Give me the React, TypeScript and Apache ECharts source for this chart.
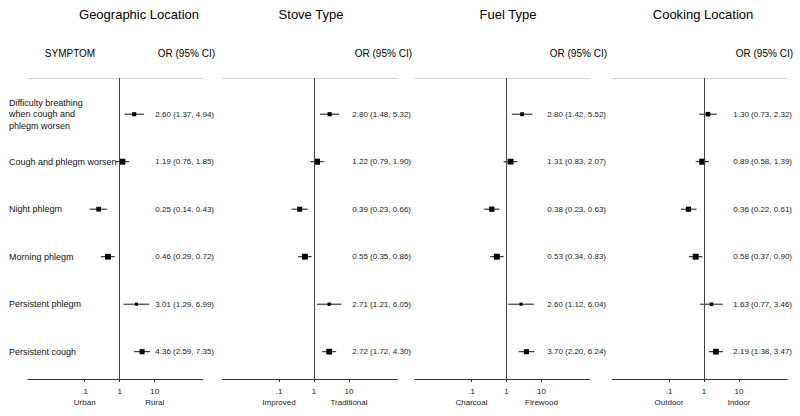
import React, { useEffect, useRef } from "react";
import * as echarts from "echarts";

const symptoms = [
  "Difficulty breathing\nwhen cough and\nphlegm worsen",
  "Cough and phlegm worsen",
  "Night phlegm",
  "Morning phlegm",
  "Persistent phlegm",
  "Persistent cough",
];

const panelTitles = ["Geographic Location", "Stove Type", "Fuel Type", "Cooking Location"];
const sideLabels = [
  ["Urban", "Rural"],
  ["Improved", "Traditional"],
  ["Charcoal", "Firewood"],
  ["Outdoor", "Indoor"],
];
const tickValues = [0.1, 1, 10];
const tickText = [".1", "1", "10"];

const geoOR = [2.6, 1.19, 0.25, 0.46, 3.01, 4.36];
const geoLo = [1.37, 0.76, 0.14, 0.29, 1.29, 2.59];
const geoHi = [4.94, 1.85, 0.43, 0.72, 6.99, 7.35];

const stoveOR = [2.8, 1.22, 0.39, 0.55, 2.71, 2.72];
const stoveLo = [1.48, 0.79, 0.23, 0.35, 1.21, 1.72];
const stoveHi = [5.32, 1.9, 0.66, 0.86, 6.05, 4.3];

const fuelOR = [2.8, 1.31, 0.38, 0.53, 2.6, 3.7];
const fuelLo = [1.42, 0.83, 0.23, 0.34, 1.12, 2.2];
const fuelHi = [5.52, 2.07, 0.63, 0.83, 6.04, 6.24];

const cookOR = [1.3, 0.89, 0.36, 0.58, 1.63, 2.19];
const cookLo = [0.73, 0.58, 0.22, 0.37, 0.77, 1.38];
const cookHi = [2.32, 1.39, 0.61, 0.9, 3.46, 3.47];

const panels = [
  { or: geoOR, lo: geoLo, hi: geoHi },
  { or: stoveOR, lo: stoveLo, hi: stoveHi },
  { or: fuelOR, lo: fuelLo, hi: fuelHi },
  { or: cookOR, lo: cookLo, hi: cookHi },
];

// layout (pixels)
const FONT = "'Liberation Sans', Arial, Helvetica, sans-serif";
const nullLineX = [119.7, 314, 506.5, 704];
const DECADE = 35;
const LOG_MIN = -2.62;
const LOG_MAX = 2.38;
const GRID_TOP = 78;
const GRID_H = 301;
const Y_MIN = 0.238;
const Y_MAX = 6.575;
const textRight = [214, 411, 606, 792];
const titleCenter = [139, 311, 508, 703];

export default function App() {
  const ref = useRef<HTMLDivElement>(null);

  useEffect(() => {
    document.body.style.margin = "0";
    if (!ref.current) return;
    const chart = echarts.init(ref.current, undefined, { renderer: "svg" });

    const grids: any[] = [];
    const xAxes: any[] = [];
    const yAxes: any[] = [];
    const series: any[] = [];
    const graphics: any[] = [];

    panels.forEach((p, i) => {
      const left = nullLineX[i] + LOG_MIN * DECADE;
      const width = (LOG_MAX - LOG_MIN) * DECADE;
      grids.push({ left, top: GRID_TOP, width, height: GRID_H, containLabel: false });

      const xMin = Math.pow(10, LOG_MIN);
      const xMax = Math.pow(10, LOG_MAX);
      // bottom axis
      xAxes.push({
        type: "log",
        logBase: 10,
        gridIndex: i,
        min: xMin,
        max: xMax,
        position: "bottom",
        axisLine: { show: true, lineStyle: { color: "#333", width: 1 } },
        axisTick: {
          show: true,
          customValues: tickValues,
          length: 3,
          lineStyle: { color: "#333", width: 1 },
        },
        axisLabel: {
          show: true,
          customValues: tickValues,
          margin: 7,
          fontSize: 8,
          lineHeight: 11,
          color: "#222",
          fontFamily: FONT,
          formatter: (v: number) => {
            const k = Math.round(Math.log10(v)) + 1;
            if (k === 0) return tickText[0] + "\n" + sideLabels[i][0];
            if (k === 2) return tickText[2] + "\n" + sideLabels[i][1];
            return tickText[1];
          },
        },
        splitLine: { show: false },
      });
      // top (header) rule
      xAxes.push({
        type: "log",
        logBase: 10,
        gridIndex: i,
        min: xMin,
        max: xMax,
        position: "top",
        axisLine: { show: true, lineStyle: { color: "#d6d6d6", width: 1 } },
        axisTick: { show: false },
        axisLabel: { show: false },
        splitLine: { show: false },
      });

      // left y axis: symptom names (first panel only)
      yAxes.push({
        type: "value",
        gridIndex: i,
        min: Y_MIN,
        max: Y_MAX,
        inverse: true,
        position: "left",
        axisLine: { show: false },
        axisTick: { show: false },
        splitLine: { show: false },
        axisLabel: {
          show: i === 0,
          customValues: [1, 2, 3, 4, 5, 6],
          align: "left",
          margin: 19,
          fontSize: 9,
          lineHeight: 11.5,
          color: "#111",
          fontFamily: FONT,
          formatter: (v: number) => symptoms[Math.round(v) - 1] ?? "",
        },
      });
      // right y axis: OR (95% CI) text
      yAxes.push({
        type: "value",
        gridIndex: i,
        min: Y_MIN,
        max: Y_MAX,
        inverse: true,
        position: "right",
        axisLine: { show: false },
        axisTick: { show: false },
        splitLine: { show: false },
        axisLabel: {
          show: true,
          customValues: [1, 2, 3, 4, 5, 6],
          align: "right",
          margin: textRight[i] - (left + width),
          fontSize: 8,
          color: "#222",
          fontFamily: FONT,
          formatter: (v: number) => {
            const k = Math.round(v) - 1;
            if (k < 0 || k >= p.or.length) return "";
            return `${p.or[k].toFixed(2)} (${p.lo[k].toFixed(2)}, ${p.hi[k].toFixed(2)})`;
          },
        },
      });

      const data = p.or.map((o, k) => [o, k + 1, p.lo[k], p.hi[k]]);
      series.push({
        type: "custom",
        xAxisIndex: 2 * i,
        yAxisIndex: 2 * i,
        encode: { x: [0, 2, 3], y: 1 },
        data,
        silent: true,
        renderItem: (params: any, api: any) => {
          const o = api.value(0);
          const y = api.value(1);
          const lo = api.value(2);
          const hi = api.value(3);
          const pc = api.coord([o, y]);
          const pl = api.coord([lo, y]);
          const ph = api.coord([hi, y]);
          const s = Math.max(2.5, Math.min(8, 5.3 / Math.log(hi / lo)));
          return {
            type: "group",
            children: [
              {
                type: "line",
                shape: { x1: pl[0], y1: pc[1], x2: ph[0], y2: pc[1] },
                style: { stroke: "#111", lineWidth: 1 },
              },
              {
                type: "rect",
                shape: { x: pc[0] - s / 2, y: pc[1] - s / 2, width: s, height: s },
                style: { fill: "#000" },
              },
            ],
          };
        },
        markLine: {
          silent: true,
          symbol: "none",
          label: { show: false },
          lineStyle: { color: "#444", width: 1, type: "solid" },
          data: [{ xAxis: 1 }],
        },
      });

      graphics.push({
        type: "text",
        x: titleCenter[i],
        y: 14,
        style: {
          text: panelTitles[i],
          fontSize: 13,
          fontFamily: FONT,
          fill: "#000",
          align: "center",
          verticalAlign: "middle",
        },
      });
      graphics.push({
        type: "text",
        x: textRight[i] + 1,
        y: 53,
        style: {
          text: "OR (95% CI)",
          fontSize: 10,
          fontFamily: FONT,
          fill: "#000",
          align: "right",
          verticalAlign: "middle",
        },
      });
    });

    graphics.push({
      type: "text",
      x: 70,
      y: 53,
      style: {
        text: "SYMPTOM",
        fontSize: 10,
        fontFamily: FONT,
        fill: "#000",
        align: "center",
        verticalAlign: "middle",
      },
    });

    chart.setOption({
      animation: false,
      backgroundColor: "#fff",
      grid: grids,
      xAxis: xAxes,
      yAxis: yAxes,
      series,
      graphic: graphics,
    });

    return () => chart.dispose();
  }, []);

  return <div ref={ref} style={{ width: 800, height: 416 }} />;
}
